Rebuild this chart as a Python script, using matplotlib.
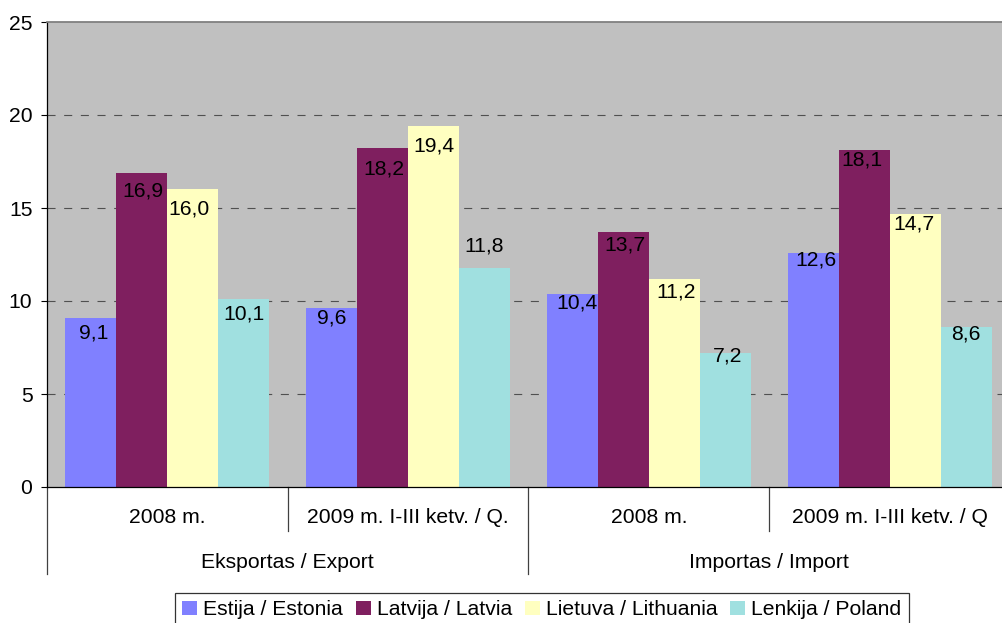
import matplotlib
matplotlib.use('Agg')
import matplotlib.pyplot as plt
import matplotlib.transforms as mtransforms
from matplotlib.patches import Patch

plt.rcParams['font.family'] = ['Liberation Sans', 'DejaVu Sans']
plt.rcParams['lines.scale_dashes'] = False

# ---- data ----
groups = ['Eksportas / Export', 'Importas / Import']
periods = ['2008 m.', '2009 m. I-III ketv. / Q.', '2008 m.', '2009 m. I-III ketv. / Q']
series = ['Estija / Estonia', 'Latvija / Latvia', 'Lietuva / Lithuania', 'Lenkija / Poland']
estonia = [9.1, 9.6, 10.4, 12.6]
latvia = [16.9, 18.2, 13.7, 18.1]
lithuania = [16.0, 19.4, 11.2, 14.7]
poland = [10.1, 11.8, 7.2, 8.6]
yticks = [0, 5, 10, 15, 20, 25]

# ---- styles ----
colors = ['#8080FF', '#7F1F5F', '#FFFFC0', '#A0E0E0']
# label offsets (pixels below bar top of label digit-center, and x shift)
label_dy = [[13, 8, 7, 5], [16, 19, 11, 8], [18, 18, 11, 8], [13, -24, 1, 5]]
label_dx = [[3, 0, 5, 3], [1, 1, 2, -2], [-4, 0, 2, -1], [0, 0, 2, 0]]
FS = 15.2

W, H = 1003, 623
fig = plt.figure(figsize=(W / 100, H / 100), dpi=100)
ax = fig.add_axes([47 / W, (H - 487) / H, 963 / W, 465 / H])
ax.set_facecolor('#C0C0C0')

values = [estonia, latvia, lithuania, poland]
x = list(range(len(periods)))
bw = 51 / 240.75
for i, (vals, c) in enumerate(zip(values, colors)):
    xs = [xi + (i - 1.5) * bw for xi in x]
    ax.bar(xs, vals, bw, color=c, linewidth=0, zorder=2)
    for j, (xx, v) in enumerate(zip(xs, vals)):
        ax.annotate(f"{v:.1f}".replace('.', ','), (xx, v),
                    xytext=(label_dx[i][j], -(label_dy[i][j] + 7.5)),
                    textcoords='offset pixels', ha='center', va='baseline',
                    fontsize=FS, color='black', zorder=3)

ax.set_xlim(-0.5, len(periods) - 0.5)
ax.set_ylim(yticks[0], yticks[-1])
ax.set_yticks(yticks)
ax.set_yticklabels([str(t) for t in yticks])
ax.set_xticks([])
ax.tick_params(axis='y', length=4.5, width=0.8, pad=6.0, labelsize=FS, color='black')
ax.hlines(yticks[1:-1], -0.5, len(periods) - 0.5, colors='#505050',
          linestyles=(0, (5.8, 6.2)), linewidth=0.8, zorder=1)

ax.spines['right'].set_visible(False)
ax.spines['top'].set_color('#808080')
ax.spines['top'].set_linewidth(1.3)
ax.spines['left'].set_color('black')
ax.spines['left'].set_linewidth(0.9)
ax.spines['bottom'].set_color('black')
ax.spines['bottom'].set_linewidth(0.9)

trans = mtransforms.blended_transform_factory(ax.transData, ax.transAxes)
ah = 465.0
for i, p in enumerate(periods):
    ax.text(i, -36 / ah, p, ha='center', va='baseline', fontsize=FS, transform=trans)
for j, g in enumerate(groups):
    ax.text(0.5 + 2 * j, -81 / ah, g, ha='center', va='baseline', fontsize=FS, transform=trans)
for xs_ in [0.5, 2.5]:
    ax.plot([xs_, xs_], [0, -44 / ah], transform=trans, clip_on=False, color='#404040', lw=0.9)
for xs_ in [-0.5, 1.5, 3.5]:
    ax.plot([xs_, xs_], [0, -87 / ah], transform=trans, clip_on=False, color='#404040', lw=0.9)

handles = [Patch(facecolor=c, edgecolor='none') for c in colors]
leg = fig.legend(handles, series, loc='upper left', bbox_to_anchor=(175 / W, 1 - 593 / H),
                 ncol=4, fontsize=FS, frameon=True, fancybox=False, borderaxespad=0,
                 handlelength=0.7, handleheight=0.7, handletextpad=0.3, columnspacing=0.6,
                 borderpad=0.35)
leg.get_frame().set_edgecolor('black')
leg.get_frame().set_linewidth(0.9)

fig.savefig('out.png', dpi=100)
